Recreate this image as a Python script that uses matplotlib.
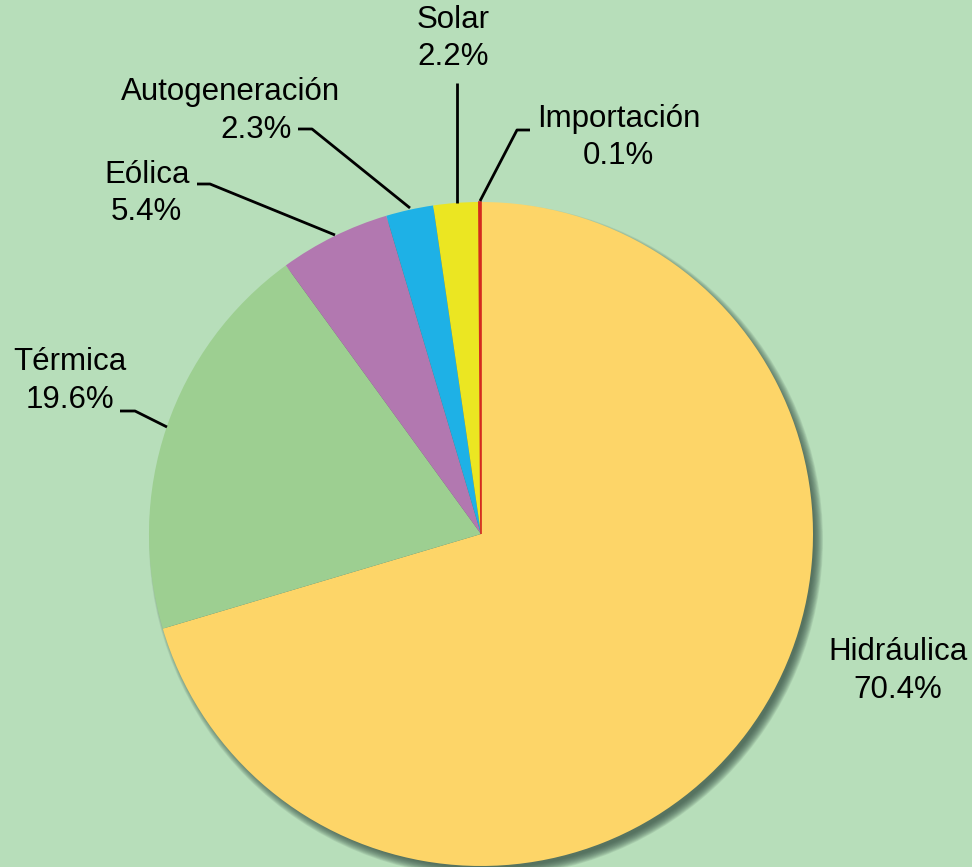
import matplotlib.pyplot as plt
from matplotlib.patches import Circle

# generación eléctrica por fuente (%)
fuentes = ["Hidráulica", "Térmica", "Eólica", "Autogeneración", "Solar", "Importación"]
porcentajes = [70.4, 19.6, 5.4, 2.3, 2.2, 0.1]
colores = ["#FDD568", "#9DCF91", "#B278B0", "#1EB1E6", "#EBE622", "#D42A1E"]

fondo = "#B7DEBA"
W, H = 972, 867
cx, cy, r = 481, H - 534, 332

fig = plt.figure(figsize=(W / 100, H / 100), dpi=100, facecolor=fondo)
ax = fig.add_axes([0, 0, 1, 1])
ax.set_facecolor(fondo)

# sombra difusa bajo el pastel
for k in range(12):
    ax.add_patch(Circle((cx + 5, cy - 6), r + 5 - k * 0.8, color="#3a5448",
                        alpha=0.11, lw=0, zorder=1))

wedges, _ = ax.pie(porcentajes, colors=colores, startangle=90, counterclock=False,
                   center=(cx, cy), radius=r, frame=True,
                   wedgeprops=dict(linewidth=0, zorder=2))
wedges[-1].set_edgecolor(colores[-1])
wedges[-1].set_linewidth(1.2)
ax.set_xlim(0, W)
ax.set_ylim(0, H)
ax.set_aspect("equal")
ax.axis("off")

font = dict(family="Liberation Sans", fontsize=22.5, color="black", zorder=5)

# posición de cada línea de texto: (x nombre, y nombre, x valor, y valor)
pos_txt = [
    (898, 652, 898, 690),
    (70, 362, 70, 400),
    (147, 175, 146, 212),
    (230, 92, 256, 130),
    (453, 20, 453, 57),
    (619, 119, 618, 156),
]
for nombre, v, (xn, yn, xv, yv) in zip(fuentes, porcentajes, pos_txt):
    ax.text(xn, H - yn, nombre, ha="center", va="center", **font)
    ax.text(xv, H - yv, f"{v:.1f}%", ha="center", va="center", **font)

# líneas guía
guias = [
    [(120, 411), (135, 411), (167, 427)],
    [(197, 184), (210, 184), (335, 235)],
    [(298, 129), (312, 129), (410, 208)],
    [(457, 83), (457, 203)],
    [(530, 130), (517, 130), (480, 201)],
]
for g in guias:
    xs = [p[0] for p in g]
    ys = [H - p[1] for p in g]
    ax.plot(xs, ys, color="black", lw=2, zorder=4, solid_capstyle="butt")

fig.savefig("out.png", dpi=100, facecolor=fondo)
